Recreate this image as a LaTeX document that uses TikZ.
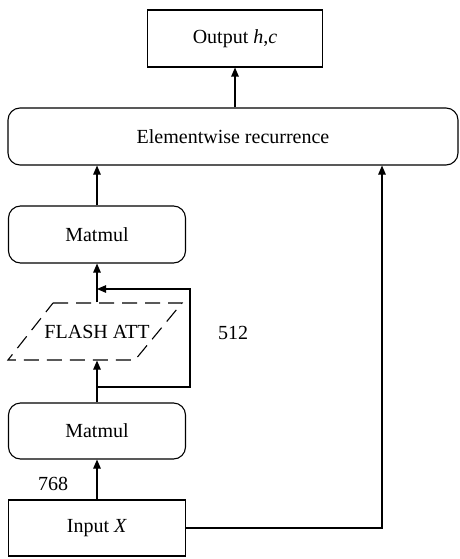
\documentclass[tikz,border=0pt]{standalone}
\usepackage{fontspec}
\setmainfont{Liberation Serif}
\usetikzlibrary{arrows.meta}
\begin{document}
\begin{tikzpicture}[x=1pt,y=1pt,
  line width=1.1pt,
  every node/.style={font=\fontsize{20}{24}\selectfont, inner sep=0pt},
  sqbox/.style={draw, rectangle, minimum width=177pt, minimum height=57pt},
  rbox/.style={draw, rectangle, rounded corners=12pt, minimum width=177pt, minimum height=57pt},
  arr/.style={-{Triangle[length=9pt,width=7.5pt]}}
]
\useasboundingbox (0,0) rectangle (459,-559);

% boxes
\node[sqbox, minimum width=175pt] (out) at (235,-38.5) {Output \textit{h},\textit{c}};
\node[rbox, minimum width=450pt] (elem) at (233,-136.5) {Elementwise recurrence};
\node[rbox] (mm1) at (97,-234.5) {Matmul};
\node[minimum width=60pt, minimum height=57pt] (flash) at (97,-331.5) {FLASH ATT};
\node[rbox, minimum height=56pt] (mm2) at (97,-431) {Matmul};
\node[sqbox, minimum height=56pt] (in) at (97,-528) {Input \textit{X}};

% dashed parallelogram around the attention block
\draw[dash pattern=on 15pt off 8pt] (53,-303) -- (182,-303) -- (135,-360) -- (8,-360) -- cycle;

% labels
\node (l512) at (233,-333) {512};
\node (l768) at (53,-484) {768};

% main flow
\draw[arr] (out.south |- elem.north) -- (out.south);
\draw[arr] (mm1.north) -- (mm1.north |- elem.south);
\draw[arr] (flash.north) -- (mm1.south);
\draw[arr] (mm2.north) -- (flash.south);
\draw[arr] (in.north) -- (mm2.south);

% residual loop around the attention block
\coordinate (lb) at (97,-387);
\coordinate (lbr) at (190,-387);
\coordinate (ltr) at (190,-289);
\coordinate (lt) at (97,-289);
\draw[arr] (lb) -- (lbr) -- (ltr) -- (lt);

% skip connection from the input to the recurrence
\coordinate (rc) at (382,-528);
\draw[arr] (in.east) -- (rc) -- (rc |- elem.south);
\end{tikzpicture}
\end{document}
